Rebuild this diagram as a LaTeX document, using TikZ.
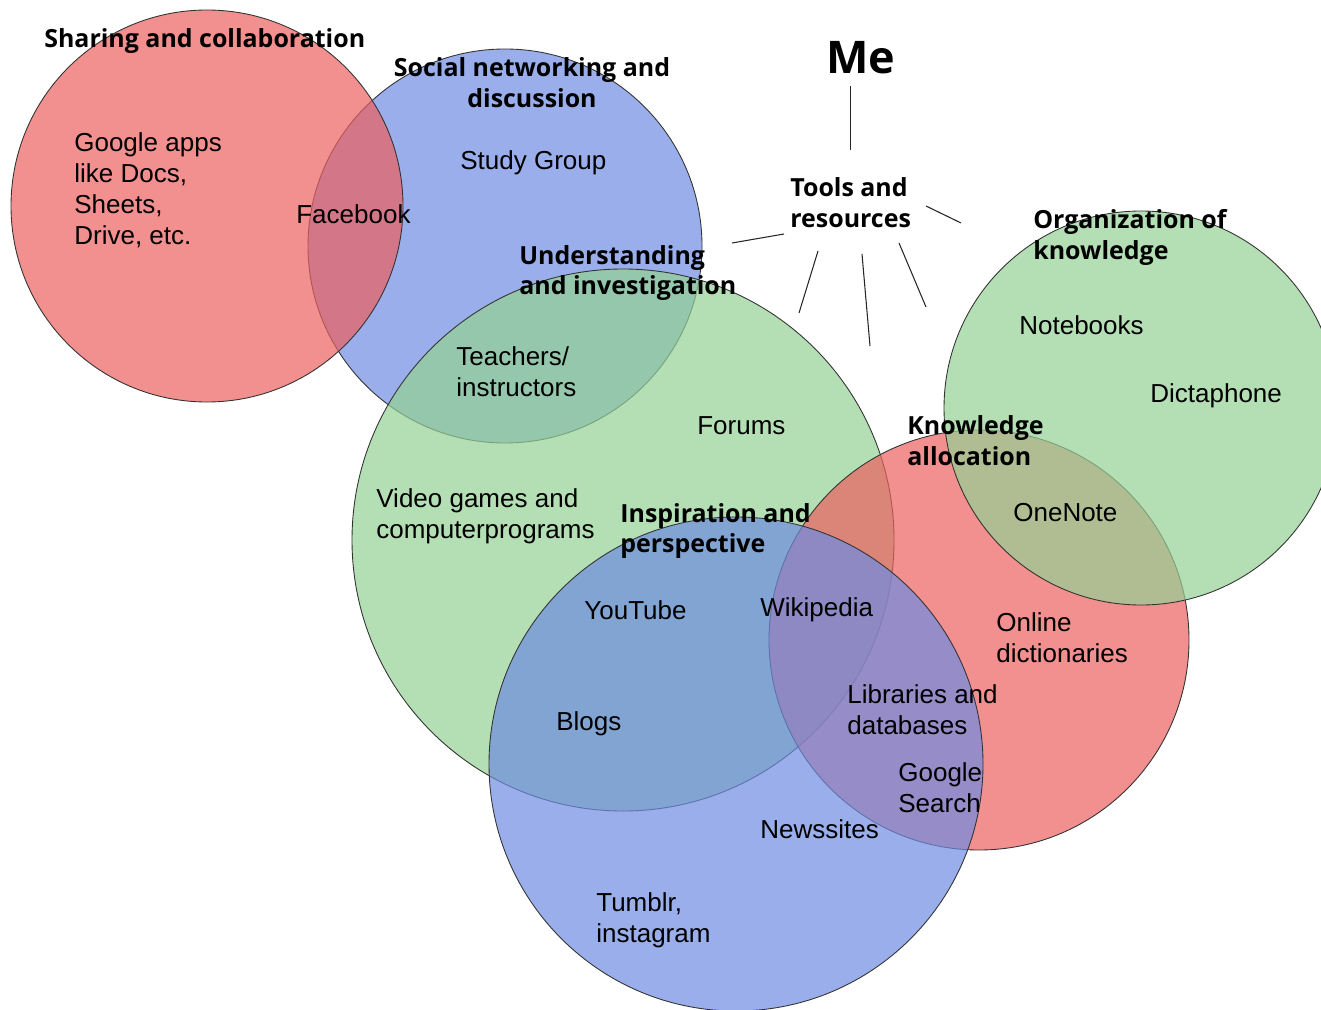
\documentclass[tikz,border=0pt]{standalone}
\usepackage{fontspec}
\setmainfont{Liberation Sans}
\newfontfamily\headfont{Open Sans}
\usetikzlibrary{positioning}

\definecolor{setred}{RGB}{236,95,95}
\definecolor{setblue}{RGB}{110,140,225}
\definecolor{setgreen}{RGB}{148,209,148}

\tikzset{
  set/.style={draw=black!80, line width=0.5pt, fill opacity=0.7},
  item/.style={inner sep=0pt, align=left, anchor=west,
    font=\fontsize{14.8}{17.6}\selectfont},
  head/.style={inner sep=0pt, align=left, anchor=west,
    font=\headfont\bfseries\fontsize{14.2}{17.6}\selectfont},
  ray/.style={line width=0.6pt, black!85},
}

\begin{document}
\begin{tikzpicture}[x=0.02cm,y=-0.02cm]
    \useasboundingbox (0,0) rectangle (1321,1010);
    % the six sets
    \filldraw[set,fill=setblue] (505,246) circle (197);
    \filldraw[set,fill=setred] (207,206) circle (196);
    \filldraw[set,fill=setgreen] (623,540) circle (271);
    \filldraw[set,fill=setred] (979,640) circle (210);
    \filldraw[set,fill=setblue] (736,764) circle (247);
    \filldraw[set,fill=setgreen] (1141,408) circle (197);
    %
    \node[head] (sharing) at (44,41) {Sharing and collaboration};
    \node[head,anchor=center,align=center] (social) at (532,83)
      {Social networking and\\discussion};
    \node[head] (understanding) at (519,273) {Understanding\\and investigation};
    \node[head] (inspiration) at (620,531) {Inspiration and\\perspective};
    \node[head] (allocation) at (907,441) {Knowledge\\allocation};
    \node[head] (organization) at (1033,237) {Organization of\\knowledge};
    \node[head] (tools) at (790,203) {Tools and\\resources};
    \node[head,anchor=center,font=\headfont\bfseries\fontsize{25.6}{30}\selectfont]
      (me) at (861,58) {Me};
    %
    \node[item] (gapps) at (74,190) {Google apps\\like Docs,\\Sheets,\\Drive, etc.};
    \node[item] (facebook) at (296,214) {Facebook};
    \node[item] (study) at (460,163) {Study Group};
    \node[item] (teachers) at (456,372) {Teachers/\\instructors};
    \node[item] (forums) at (697,426) {Forums};
    \node[item] (games) at (376,516) {Video games and\\computerprograms};
    \node[item] (youtube) at (584,610) {YouTube};
    \node[item] (wikipedia) at (760,610) {Wikipedia};
    \node[item] (blogs) at (556,724) {Blogs};
    \node[item] (libraries) at (847,710) {Libraries and\\databases};
    \node[item] (gsearch) at (898,788) {Google\\Search};
    \node[item] (news) at (760,829) {Newssites};
    \node[item] (tumblr) at (596,920) {Tumblr,\\instagram};
    \node[item] (dicts) at (996,638) {Online\\dictionaries};
    \node[item] (onenote) at (1013,513) {OneNote};
    \node[item] (notebooks) at (1019,325) {Notebooks};
    \node[item] (dictaphone) at (1150,396) {Dictaphone};
    %
    \draw[ray,shorten <=0.22cm,shorten >=0.55cm] (me.south -| tools.north) -- (tools.north);
    % rays round the tools
    \coordinate (r1a) at (732,243);  \coordinate (r1b) at (784,234);
    \coordinate (r2a) at (926,206);  \coordinate (r2b) at (961,223);
    \coordinate (r3a) at (818,251);  \coordinate (r3b) at (799,313);
    \coordinate (r4a) at (862,254);  \coordinate (r4b) at (870,346);
    \coordinate (r5a) at (899,243);  \coordinate (r5b) at (926,307);
    \foreach \i in {1,...,5}
      \draw[ray] (r\i a) -- (r\i b);
\end{tikzpicture}
\end{document}
